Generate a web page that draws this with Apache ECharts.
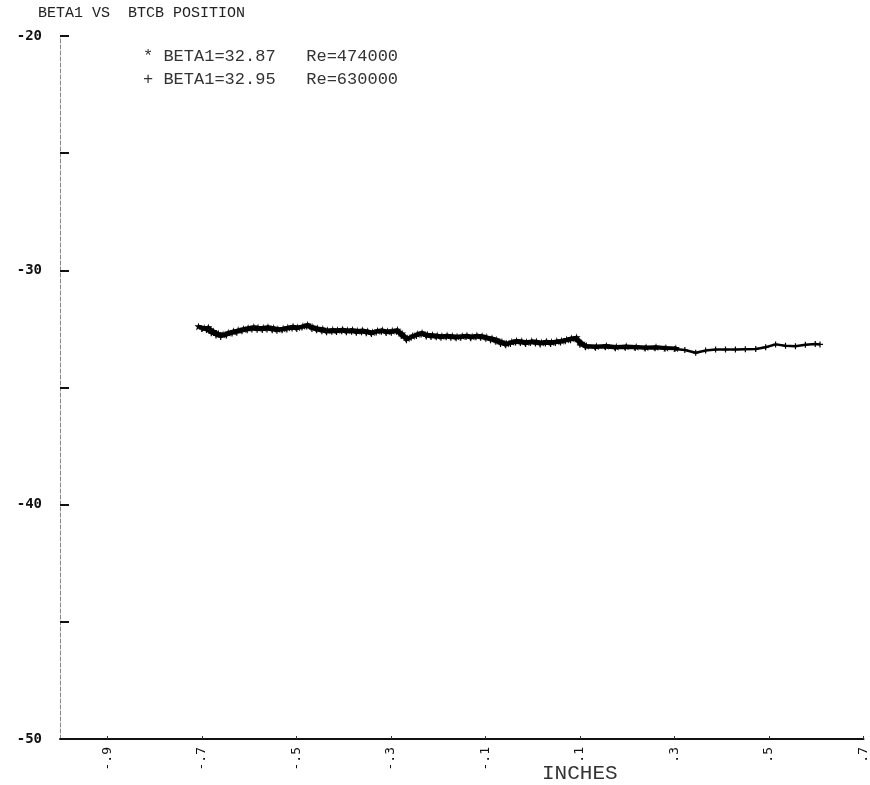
<!DOCTYPE html>
<html>
<head>
<meta charset="utf-8">
<script src="https://cdn.jsdelivr.net/npm/echarts@6/dist/echarts.min.js"></script>
<style>html,body{margin:0;padding:0;background:#fff;}#chart{width:870px;height:785px;}</style>
</head>
<body>
<div id="chart"></div>
<script>
// ---- data ----
const titleText = 'BETA1 VS  BTCB POSITION';
const legendA = '* BETA1=32.87   Re=474000';
const legendB = '+ BETA1=32.95   Re=630000';
const xAxisName = 'INCHES';
const xTickValues = [-0.9, -0.7, -0.5, -0.3, -0.1, 0.1, 0.3, 0.5, 0.7];
const xTickLabels = ['-.9', '-.7', '-.5', '-.3', '-.1', '.1', '.3', '.5', '.7'];

// BETA1 vs position, Re=474000 (* markers)
const seriesA = [
[-0.707,-32.40],[-0.695,-32.46],[-0.686,-32.44],[-0.675,-32.60],[-0.665,-32.70],[-0.655,-32.74],[-0.644,-32.66],[-0.633,-32.60],[-0.623,-32.55],[-0.612,-32.50],[-0.602,-32.46],[-0.590,-32.42],[-0.581,-32.44],[-0.570,-32.45],[-0.560,-32.42],[-0.548,-32.46],[-0.539,-32.50],[-0.528,-32.48],[-0.518,-32.44],[-0.507,-32.40],[-0.497,-32.43],[-0.486,-32.38],[-0.476,-32.32],[-0.465,-32.42],[-0.455,-32.47],[-0.444,-32.50],[-0.434,-32.56],[-0.423,-32.54],[-0.413,-32.55],[-0.402,-32.52],[-0.392,-32.56],[-0.381,-32.54],[-0.371,-32.58],[-0.360,-32.56],[-0.349,-32.60],[-0.339,-32.64],[-0.328,-32.58],[-0.318,-32.55],[-0.307,-32.60],[-0.297,-32.58],[-0.286,-32.54],[-0.276,-32.70],[-0.265,-32.90],[-0.254,-32.80],[-0.244,-32.72],[-0.234,-32.66],[-0.223,-32.74],[-0.212,-32.76],[-0.202,-32.78],[-0.192,-32.80],[-0.181,-32.78],[-0.170,-32.80],[-0.160,-32.82],[-0.149,-32.80],[-0.139,-32.78],[-0.128,-32.82],[-0.118,-32.78],[-0.107,-32.80],[-0.097,-32.85],[-0.086,-32.90],[-0.076,-32.96],[-0.065,-33.05],[-0.055,-33.12],[-0.044,-33.05],[-0.034,-33.00],[-0.023,-33.02],[-0.013,-33.06],[-0.002,-33.02],[0.008,-33.04],[0.019,-33.08],[0.029,-33.04],[0.040,-33.06],[0.051,-33.02],[0.061,-33.00],[0.072,-32.95],[0.082,-32.90],[0.093,-32.86],[0.104,-33.10],[0.114,-33.22],[0.135,-33.24],[0.156,-33.22],[0.177,-33.26],[0.198,-33.24],[0.219,-33.26],[0.240,-33.28],[0.261,-33.27],[0.282,-33.30],[0.303,-33.32]
];

// BETA1 vs position, Re=630000 (+ markers)
const seriesB = [
[-0.700,-32.50],[-0.690,-32.55],[-0.680,-32.68],[-0.670,-32.78],[-0.660,-32.84],[-0.648,-32.78],[-0.636,-32.70],[-0.626,-32.66],[-0.615,-32.60],[-0.604,-32.56],[-0.594,-32.52],[-0.583,-32.54],[-0.572,-32.55],[-0.562,-32.52],[-0.551,-32.56],[-0.541,-32.58],[-0.530,-32.56],[-0.520,-32.52],[-0.509,-32.48],[-0.499,-32.50],[-0.488,-32.44],[-0.478,-32.40],[-0.467,-32.50],[-0.457,-32.56],[-0.446,-32.60],[-0.436,-32.64],[-0.425,-32.62],[-0.415,-32.63],[-0.404,-32.60],[-0.394,-32.64],[-0.383,-32.62],[-0.373,-32.66],[-0.362,-32.64],[-0.352,-32.68],[-0.341,-32.72],[-0.331,-32.65],[-0.320,-32.62],[-0.310,-32.67],[-0.299,-32.66],[-0.288,-32.62],[-0.278,-32.80],[-0.267,-32.98],[-0.257,-32.88],[-0.246,-32.80],[-0.236,-32.74],[-0.225,-32.82],[-0.215,-32.84],[-0.204,-32.86],[-0.194,-32.88],[-0.183,-32.86],[-0.173,-32.88],[-0.162,-32.90],[-0.152,-32.88],[-0.141,-32.85],[-0.131,-32.90],[-0.120,-32.86],[-0.110,-32.88],[-0.099,-32.92],[-0.089,-32.98],[-0.078,-33.05],[-0.068,-33.14],[-0.057,-33.20],[-0.047,-33.14],[-0.036,-33.08],[-0.026,-33.10],[-0.015,-33.14],[-0.005,-33.10],[0.006,-33.12],[0.016,-33.16],[0.027,-33.12],[0.038,-33.14],[0.048,-33.10],[0.059,-33.08],[0.069,-33.03],[0.080,-32.98],[0.090,-32.94],[0.100,-33.18],[0.112,-33.28],[0.133,-33.30],[0.154,-33.28],[0.175,-33.32],[0.196,-33.30],[0.217,-33.31],[0.238,-33.34],[0.259,-33.33],[0.280,-33.35],[0.301,-33.36],[0.322,-33.40],[0.345,-33.52],[0.366,-33.42],[0.387,-33.38],[0.408,-33.38],[0.429,-33.38],[0.450,-33.37],[0.472,-33.36],[0.493,-33.28],[0.514,-33.16],[0.535,-33.22],[0.556,-33.24],[0.577,-33.18],[0.598,-33.14],[0.608,-33.16]
];

const starPath = 'path://M5,0L6,3.5L10,3.5L7,6L8,10L5,7.5L2,10L3,6L0,3.5L4,3.5Z';
const plusPath = 'path://M4,0H6V4H10V6H6V10H4V6H0V4H4Z';
const monoFont = '"DejaVu Sans Mono", "Liberation Mono", monospace';
const thinFont = '"Liberation Mono", "DejaVu Sans Mono", monospace';

const chart = echarts.init(document.getElementById('chart'), null, {renderer: 'canvas'});
chart.setOption({
  backgroundColor: '#ffffff',
  animation: false,
  grid: {left: 60, right: 0, top: 36, bottom: 46, containLabel: false},
  graphic: [
    {type: 'text', left: 38, top: 6, style: {text: titleText, fill: '#222', font: '15px ' + thinFont}},
    {type: 'text', left: 143, top: 48, style: {text: legendA, fill: '#333', font: '17px ' + thinFont}},
    {type: 'text', left: 143, top: 71, style: {text: legendB, fill: '#333', font: '17px ' + thinFont}},
    {type: 'text', left: 542, top: 763, style: {text: xAxisName, fill: '#333', font: '21px ' + thinFont}}
  ],
  xAxis: {
    type: 'value', min: -1.0, max: 0.7,
    axisLine: {show: true, onZero: false, lineStyle: {color: '#111', width: 2}},
    axisTick: {show: true, inside: true, length: 3, customValues: xTickValues, lineStyle: {color: '#333'}},
    axisLabel: {
      show: true, rotate: 90, margin: 8, customValues: xTickValues,
      color: '#111', fontFamily: monoFont, fontSize: 13,
      formatter: function (v) {
        for (let i = 0; i < xTickValues.length; i++) {
          if (Math.abs(xTickValues[i] - v) < 1e-6) return xTickLabels[i];
        }
        return '';
      }
    },
    splitLine: {show: false}
  },
  yAxis: {
    type: 'value', min: -50, max: -20, interval: 10,
    axisLine: {show: true, onZero: false, lineStyle: {color: '#888', width: 1, type: 'dashed'}},
    axisTick: {show: true, inside: true, length: 9, lineStyle: {color: '#111', width: 2}},
    minorTick: {show: true, splitNumber: 2, length: 9, lineStyle: {color: '#111', width: 2}},
    axisLabel: {show: true, margin: 18, color: '#111', fontFamily: monoFont, fontWeight: 'bold', fontSize: 14},
    splitLine: {show: false}
  },
  series: [
    {
      name: legendA, type: 'line', data: seriesA,
      symbol: starPath, symbolSize: 8, showSymbol: true,
      lineStyle: {color: '#000', width: 3.5},
      itemStyle: {color: '#000'}
    },
    {
      name: legendB, type: 'line', data: seriesB,
      symbol: plusPath, symbolSize: 6, showSymbol: true,
      lineStyle: {color: '#000', width: 2.5},
      itemStyle: {color: '#000'}
    }
  ]
});
</script>
</body>
</html>
